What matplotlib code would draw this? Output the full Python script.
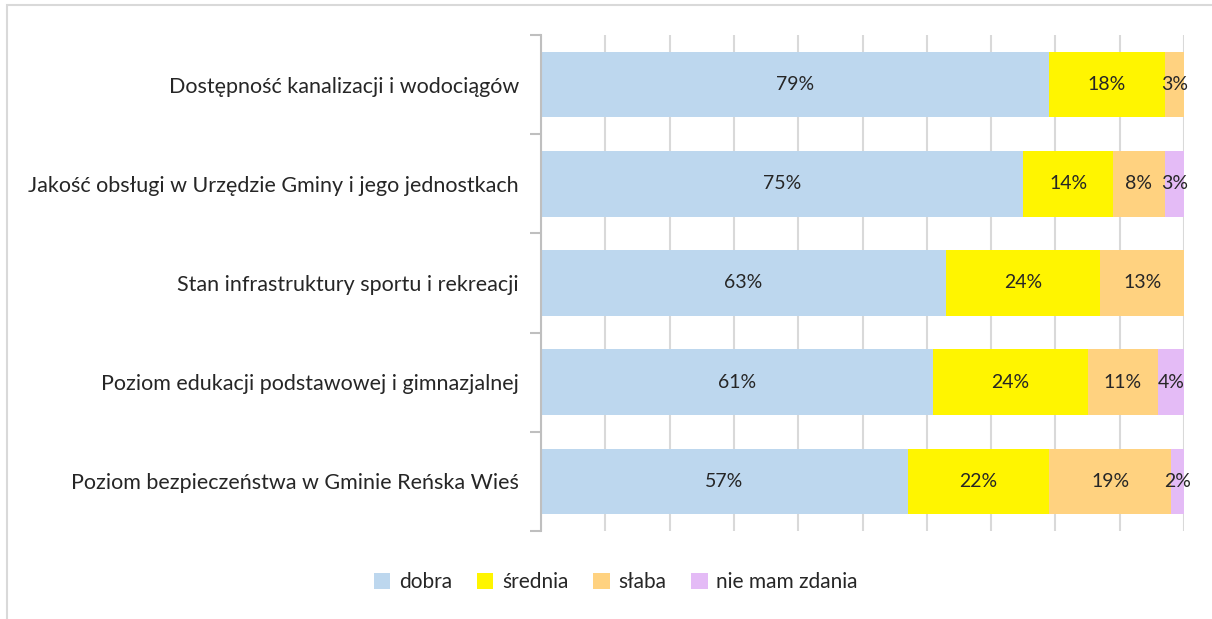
import matplotlib.pyplot as plt
import numpy as np
from matplotlib.patches import Rectangle

plt.rcParams['font.family'] = ['Lato', 'DejaVu Sans']

categories = [
    "Dostępność kanalizacji i wodociągów",
    "Jakość obsługi w Urzędzie Gminy i jego jednostkach",
    "Stan infrastruktury sportu i rekreacji",
    "Poziom edukacji podstawowej i gimnazjalnej",
    "Poziom bezpieczeństwa w Gminie Reńska Wieś",
]
series = ["dobra", "średnia", "słaba", "nie mam zdania"]
dobra = [79, 75, 63, 61, 57]
srednia = [18, 14, 24, 24, 22]
slaba = [3, 8, 13, 11, 19]
brak = [0, 3, 0, 4, 2]
colors = ["#BDD7EE", "#FFF500", "#FFD280", "#E4BBF6"]

fig = plt.figure(figsize=(12.12, 6.19), dpi=100)
ax = fig.add_axes([541 / 1212, 1 - 531 / 619, 643 / 1212, 496 / 619])

y = np.arange(len(categories))[::-1]
left = np.zeros(len(categories))
for name, vals, c in zip(series, [dobra, srednia, slaba, brak], colors):
    vals = np.array(vals, dtype=float)
    ax.barh(y, vals, left=left, height=0.66, color=c, label=name, zorder=2)
    for yi, l, v in zip(y, left, vals):
        if v > 0:
            ax.text(l + v / 2, yi, f"{v:.0f}%", ha="center", va="center",
                    fontsize=14, color="#262626", zorder=3)
    left += vals

ax.set_xlim(0, 100)
ax.set_ylim(-0.5, len(categories) - 0.5)
ax.set_xticks(np.arange(0, 101, 10))
ax.tick_params(axis="x", length=0, labelbottom=False)
ax.grid(axis="x", color="#D9D9D9", linewidth=1.5, zorder=0)

ax.set_yticks(y)
ax.set_yticklabels(categories, fontsize=15.5, color="#262626")
ax.tick_params(axis="y", which="major", length=0, pad=16)
ax.set_yticks(np.arange(-0.5, len(categories), 1), minor=True)
ax.tick_params(axis="y", which="minor", length=8, color="#BFBFBF", width=1.5)

for s in ["top", "right", "bottom"]:
    ax.spines[s].set_visible(False)
ax.spines["left"].set_color("#BFBFBF")
ax.spines["left"].set_linewidth(1.5)

fig.legend(loc="center", bbox_to_anchor=(0.508, 1 - 582 / 619), ncol=4, frameon=False,
           fontsize=15, handlelength=0.8, handleheight=0.8, handletextpad=0.4,
           columnspacing=1.2, labelcolor="#262626")

fig.add_artist(Rectangle((7 / 1212, -0.1), 1.2, 1.1 - 5 / 619, transform=fig.transFigure,
                         fill=False, edgecolor="#D9D9D9", linewidth=1.5))

fig.savefig("out.png", dpi=100)
